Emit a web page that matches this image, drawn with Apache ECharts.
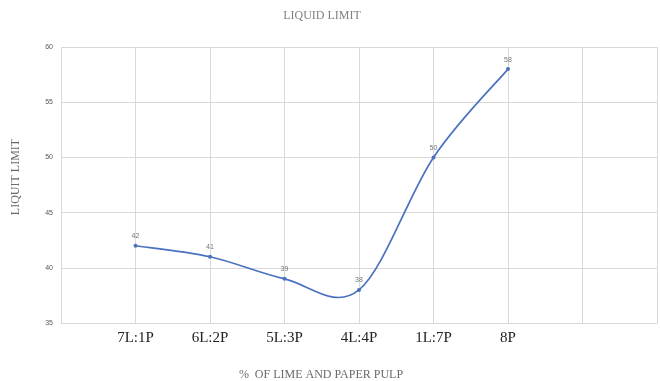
<!DOCTYPE html>
<html><head><meta charset="utf-8">
<script src="https://cdn.jsdelivr.net/npm/echarts@6/dist/echarts.min.js"></script>
<style>html,body{margin:0;padding:0;background:#fff}#c{width:660px;height:381px}</style>
</head><body><div id="c"></div>
<script>
const categories = ['', '7L:1P', '6L:2P', '5L:3P', '4L:4P', '1L:7P', '8P', '', ''];
const liquidLimit = [null, 42, 41, 39, 38, 50, 58, null, null];
const yTicks = [35, 40, 45, 50, 55, 60];

const LINE_COLOR = '#4a72c0';
const firstIdx = liquidLimit.findIndex(v => v != null);
let lastIdx = liquidLimit.length - 1;
while (liquidLimit[lastIdx] == null) lastIdx--;
const segments = [];
for (let i = firstIdx; i < lastIdx; i++) segments.push([i, liquidLimit[i]]);

function renderSegment(params, api) {
  const i = api.value(0);
  const clampIdx = k => Math.max(firstIdx, Math.min(lastIdx, k));
  const pt = k => { k = clampIdx(k); return api.coord([k, liquidLimit[k]]); };
  const p0 = pt(i - 1), p1 = pt(i), p2 = pt(i + 1), p3 = pt(i + 2);
  return {
    type: 'bezierCurve',
    shape: {
      x1: p1[0], y1: p1[1], x2: p2[0], y2: p2[1],
      cpx1: p1[0] + (p2[0] - p0[0]) / 6, cpy1: p1[1] + (p2[1] - p0[1]) / 6,
      cpx2: p2[0] - (p3[0] - p1[0]) / 6, cpy2: p2[1] - (p3[1] - p1[1]) / 6
    },
    style: {stroke: LINE_COLOR, lineWidth: 1.7, fill: null}
  };
}

const chart = echarts.init(document.getElementById('c'));
chart.setOption({
  animation: false,
  title: [
    {text: 'LIQUID LIMIT', left: 317, top: 5, textAlign: 'center',
     textStyle: {fontFamily: 'Liberation Serif', fontSize: 12, fontWeight: 'normal', color: '#808080'}},
    {text: '%  OF LIME AND PAPER PULP', left: 316, top: 364, textAlign: 'center',
     textStyle: {fontFamily: 'Liberation Serif', fontSize: 12, fontWeight: 'normal', color: '#6a6a6a'}}
  ],
  graphic: [{
    type: 'text', x: 16, y: 177, rotation: Math.PI / 2,
    style: {text: 'LIQUIT LIMIT', textAlign: 'center', textVerticalAlign: 'middle',
      fontFamily: 'Liberation Serif', fontSize: 12, fill: '#6a6a6a'}
  }],
  grid: {left: 61, right: 1, top: 47, bottom: 58, containLabel: false},
  xAxis: {
    type: 'category', data: categories, boundaryGap: false,
    axisLine: {lineStyle: {color: '#d9d9d9'}},
    axisTick: {show: false},
    axisLabel: {fontFamily: 'Liberation Serif', fontSize: 15, color: '#222', margin: 8, interval: 0},
    splitLine: {show: true, lineStyle: {color: '#d9d9d9'}}
  },
  yAxis: {
    type: 'value', min: yTicks[0], max: yTicks[yTicks.length - 1], interval: 5,
    axisLine: {show: false}, axisTick: {show: false},
    axisLabel: {fontSize: 7, color: '#555', margin: 8},
    splitLine: {lineStyle: {color: '#d9d9d9'}}
  },
  series: [
    {
      type: 'custom', data: segments, renderItem: renderSegment,
      encode: {x: 0, y: 1}, silent: true, z: 2
    },
    {
      type: 'line', data: liquidLimit, connectNulls: false,
      symbol: 'circle', symbolSize: 4,
      lineStyle: {opacity: 0},
      itemStyle: {color: LINE_COLOR},
      label: {show: true, position: 'top', fontSize: 7, color: '#777', distance: 4},
      z: 3
    }
  ]
});
</script></body></html>
